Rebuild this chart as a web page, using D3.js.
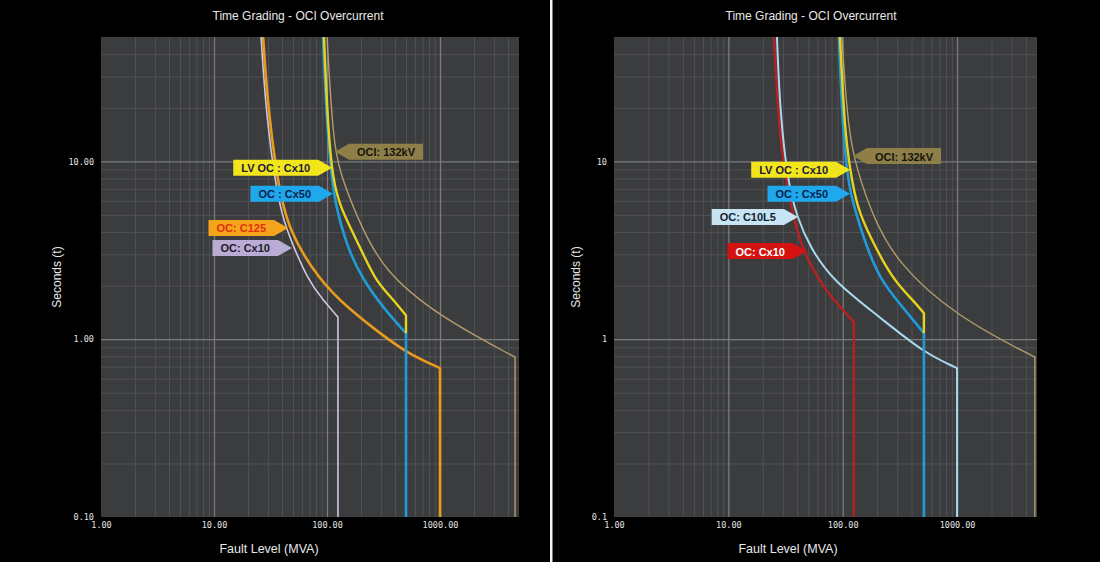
<!DOCTYPE html>
<html><head><meta charset="utf-8">
<script src="https://cdn.jsdelivr.net/npm/d3@7"></script>
<style>body{margin:0;background:#000;} svg{display:block}</style>
</head><body>
<svg id="c" width="1100" height="562"></svg>
<script>
// ---------- data ----------
const titleText = "Time Grading - OCI Overcurrent";
const xLabelText = "Fault Level (MVA)";
const yLabelText = "Seconds (t)";
const xDomain = [1, 5000];
const yDomain = [0.1, 50];
const xTickVals = [1, 10, 100, 1000];
const xTickLabels = ["1.00", "10.00", "100.00", "1000.00"];
const yTickVals = [0.1, 1, 10];
const yTickLabelsL = ["0.10", "1.00", "10.00"];
const yTickLabelsR = ["0.1", "1", "10"];

// left panel curves  [fault MVA, seconds]
const L_tan      = [[100,50],[113,13.2],[130,8.61],[184,4.87],[307,2.45],[1000,1.33],[4613,0.792],[4613,0.1]];
const L_lavender = [[26.1,50],[28.3,22.2],[33.3,8.96],[40,4.87],[49,3.47],[67.9,2.15],[92.2,1.66],[125,1.33],[125,0.1]];
const L_orange   = [[27.2,50],[29.4,23.1],[36.1,7.87],[45.2,4.11],[85,2.15],[160,1.46],[294,1.08],[511,0.834],[1000,0.687],[1000,0.1]];
const L_blue     = [[92.2,50],[100,15.1],[111,7.87],[118,5.84],[150,3.3],[208,2.15],[326,1.46],[500,1.08],[500,0.1]];
const L_yellow   = [[94,50],[102,15.1],[113,7.87],[130,5.54],[196,3.3],[266,2.15],[376,1.7],[500,1.36],[500,1.08]];

// right panel curves
const R_tan       = [[98.4,50],[111,15.1],[133,8.96],[184,4.87],[298,2.68],[1000,1.33],[4786,0.792],[4786,0.1]];
const R_red       = [[25,50],[27.2,18.8],[30,9.8],[36.7,4.87],[44,3.3],[60.7,2.15],[94.6,1.51],[125,1.25],[125,0.1]];
const R_lightblue = [[26.6,50],[28.3,18.8],[33.2,7.57],[39.8,4.87],[51.7,3.3],[80.5,2.15],[211,1.33],[502,0.845],[1000,0.687],[1000,0.1]];
const R_blue      = [[92.7,50],[100,15.1],[109,8.96],[116,6.65],[150,3.76],[211,2.15],[336,1.51],[513,1.08],[513,0.1]];
const R_yellow    = [[94.6,50],[104,15.1],[116,8.96],[133,5.54],[173,3.76],[275,2.15],[411,1.66],[513,1.4],[513,1.08]];

// labels
const L_labelText = ["OCI: 132kV", "LV OC : Cx10", "OC : Cx50", "OC: C125", "OC: Cx10"];
const L_labelAt   = [[117.6,11.3],[111,9.2],[113,6.56],[45.2,4.22],[49,3.26]];
const R_labelText = ["OCI: 132kV", "LV OC : Cx10", "OC : Cx50", "OC: C10L5", "OC: Cx10"];
const R_labelAt   = [[123,10.7],[116,8.96],[116,6.56],[40.6,4.87],[48.7,3.13]];

// ---------- styles ----------
const C = {
  tan:"#b39d6c", lavender:"#cfc6e0", orange:"#e99b1d", blue:"#1f9bd8", yellow:"#e7d31b",
  red:"#bb2020", lightblue:"#a8d8ef"
};
const labelStylesL = [
  {fill:"#8d7f47", text:"#16140c", dir:"left"},
  {fill:"#f3e51c", text:"#1a1a3a", dir:"right"},
  {fill:"#1fa9ec", text:"#0a1e4a", dir:"right"},
  {fill:"#f5a51c", text:"#e0300c", dir:"right"},
  {fill:"#b9abd4", text:"#1e1a2a", dir:"right"}
];
const labelStylesR = [
  {fill:"#8d7f47", text:"#16140c", dir:"left"},
  {fill:"#f3e51c", text:"#1a1a3a", dir:"right"},
  {fill:"#1fa9ec", text:"#0a1e4a", dir:"right"},
  {fill:"#c6e4f3", text:"#14222e", dir:"right"},
  {fill:"#d41212", text:"#ffffff", dir:"right"}
];

const panels = [
  {x0:101, x1:519, titleX:298, xLabX:269, yLabX:57, yTicks:yTickLabelsL,
   series:[[L_tan,C.tan,1.4],[L_lavender,C.lavender,1.6],[L_orange,C.orange,2.6],[L_blue,C.blue,2.6],[L_yellow,C.yellow,2.4]],
   labels:L_labelText, labelAt:L_labelAt, lstyles:labelStylesL},
  {x0:614, x1:1037, titleX:811, xLabX:788, yLabX:576, yTicks:yTickLabelsR,
   series:[[R_tan,C.tan,1.4],[R_red,C.red,2.4],[R_lightblue,C.lightblue,2],[R_blue,C.blue,2.6],[R_yellow,C.yellow,2.4]],
   labels:R_labelText, labelAt:R_labelAt, lstyles:labelStylesR}
];
const Y0 = 37, Y1 = 517;

const svg = d3.select("#c");
svg.append("rect").attr("width",1100).attr("height",562).attr("fill","#000");

const minorX = [], minorY = [];
[1,10,100,1000].forEach(d => { for (let k=2;k<=9;k++) if (d*k < xDomain[1]) minorX.push(d*k); });
[0.1,1,10].forEach(d => { for (let k=2;k<=9;k++) if (d*k < yDomain[1]) minorY.push(d*k); });

panels.forEach((p, pi) => {
  const xs = d3.scaleLog().domain(xDomain).range([p.x0, p.x1]);
  const ys = d3.scaleLog().domain(yDomain).range([Y1, Y0]);
  const g = svg.append("g");
  const W = p.x1 - p.x0, H = Y1 - Y0;

  g.append("rect").attr("x",p.x0).attr("y",Y0).attr("width",W).attr("height",H).attr("fill","#3b3c3e");

  // minor grid
  g.append("g").attr("transform",`translate(0,${Y1})`)
    .call(d3.axisBottom(xs).tickValues(minorX).tickSize(-H).tickFormat(""))
    .call(a => { a.select(".domain").remove(); a.selectAll("line").attr("stroke","#505154").attr("stroke-width",1); });
  g.append("g").attr("transform",`translate(${p.x0},0)`)
    .call(d3.axisLeft(ys).tickValues(minorY).tickSize(-W).tickFormat(""))
    .call(a => { a.select(".domain").remove(); a.selectAll("line").attr("stroke","#505154").attr("stroke-width",1); });
  // major grid
  g.append("g").attr("transform",`translate(0,${Y1})`)
    .call(d3.axisBottom(xs).tickValues(xTickVals.slice(1)).tickSize(-H).tickFormat(""))
    .call(a => { a.select(".domain").remove(); a.selectAll("line").attr("stroke","#7a7b7e").attr("stroke-width",1.3); });
  g.append("g").attr("transform",`translate(${p.x0},0)`)
    .call(d3.axisLeft(ys).tickValues(yTickVals.slice(1)).tickSize(-W).tickFormat(""))
    .call(a => { a.select(".domain").remove(); a.selectAll("line").attr("stroke","#7a7b7e").attr("stroke-width",1.3); });

  // tick labels
  g.append("g").attr("transform",`translate(0,${Y1})`)
    .call(d3.axisBottom(xs).tickValues(xTickVals).tickSize(0).tickPadding(5).tickFormat((d,i)=>xTickLabels[i]))
    .call(a => { a.select(".domain").remove();
      a.selectAll("text").attr("fill","#e4e4e4").attr("font-family","DejaVu Sans Mono").attr("font-size",8.5); });
  g.append("g").attr("transform",`translate(${p.x0},0)`)
    .call(d3.axisLeft(ys).tickValues(yTickVals).tickSize(0).tickPadding(7).tickFormat((d,i)=>p.yTicks[i]))
    .call(a => { a.select(".domain").remove();
      a.selectAll("text").attr("fill","#e4e4e4").attr("font-family","DejaVu Sans Mono").attr("font-size",8.5); });

  // curves
  const clipId = "clip"+pi;
  svg.append("clipPath").attr("id",clipId).append("rect").attr("x",p.x0).attr("y",Y0).attr("width",W).attr("height",H);
  const cg = g.append("g").attr("clip-path",`url(#${clipId})`);
  const gen = d3.line().x(d=>xs(d[0])).y(d=>ys(d[1])).curve(d3.curveBasis);
  p.series.forEach(([pts, col, sw]) => {
    const last = pts[pts.length-1];
    const d = gen(pts.slice(0,-1)) + "L" + xs(last[0]) + "," + ys(last[1]);
    cg.append("path").attr("d",d).attr("fill","none").attr("stroke",col).attr("stroke-width",sw)
      .attr("stroke-linejoin","round");
  });

  // labels
  const bh = 16, arrow = 14, pad = 8;
  p.labels.forEach((txt, i) => {
    const st = p.lstyles[i];
    const tx = xs(p.labelAt[i][0]), ty = ys(p.labelAt[i][1]);
    const lg = g.append("g");
    const t = lg.append("text").text(txt).attr("font-family","Liberation Sans, Arial, sans-serif")
      .attr("font-size",11).attr("font-weight","bold").attr("fill",st.text).attr("dominant-baseline","central");
    const tw = t.node().getComputedTextLength();
    const bw = tw + 2*pad;
    let poly;
    if (st.dir === "right") {
      const bx1 = tx - arrow, bx0 = bx1 - bw;
      poly = [[bx0,ty-bh/2],[bx1,ty-bh/2],[tx,ty],[bx1,ty+bh/2],[bx0,ty+bh/2]];
      t.attr("x", bx0 + pad).attr("y", ty+0.5);
    } else {
      const bx0 = tx + arrow, bx1 = bx0 + bw;
      poly = [[tx,ty],[bx0,ty-bh/2],[bx1,ty-bh/2],[bx1,ty+bh/2],[bx0,ty+bh/2]];
      t.attr("x", bx0 + pad).attr("y", ty+0.5);
    }
    lg.insert("polygon","text").attr("points",poly.map(q=>q.join(",")).join(" ")).attr("fill",st.fill);
  });

  // titles
  g.append("text").attr("x",p.titleX).attr("y",20).attr("text-anchor","middle").attr("fill","#e8e8e8")
    .attr("font-family","Liberation Sans, Arial, sans-serif").attr("font-size",12).text(titleText);
  g.append("text").attr("x",p.xLabX).attr("y",553).attr("text-anchor","middle").attr("fill","#e8e8e8")
    .attr("font-family","Liberation Sans, Arial, sans-serif").attr("font-size",12.5).text(xLabelText);
  g.append("text").attr("transform",`translate(${p.yLabX},277) rotate(-90)`).attr("text-anchor","middle")
    .attr("dominant-baseline","central").attr("fill","#e8e8e8")
    .attr("font-family","Liberation Sans, Arial, sans-serif").attr("font-size",12).text(yLabelText);
});

// separator
svg.append("rect").attr("x",550).attr("y",0).attr("width",2.5).attr("height",562).attr("fill","#f2f2f2");
</script>
</body></html>
